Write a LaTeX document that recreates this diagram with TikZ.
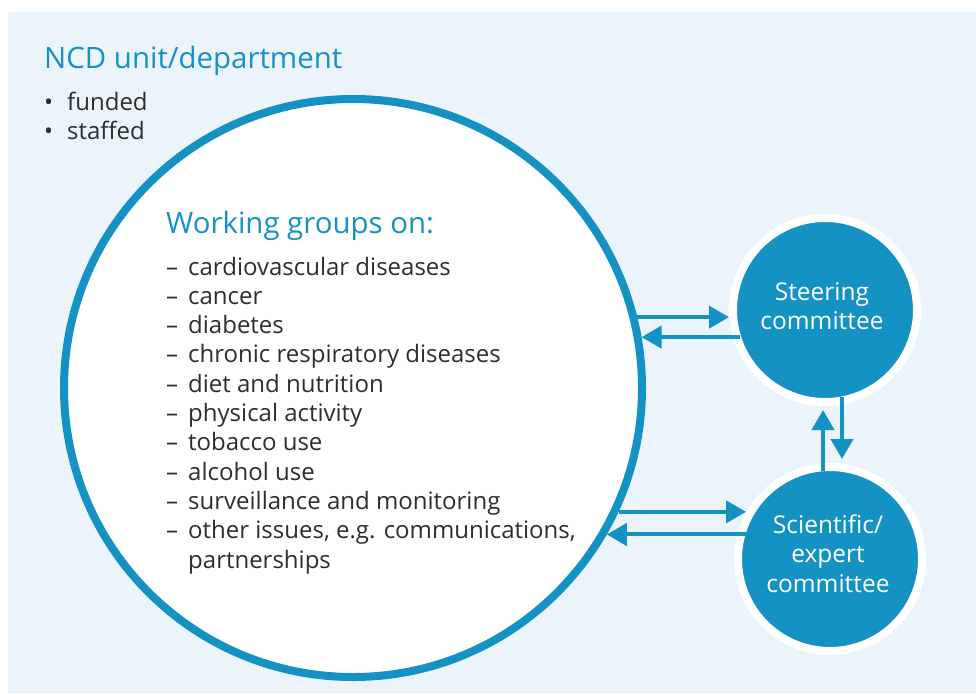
\documentclass[tikz,border=0pt]{standalone}
\usepackage{fontspec}
\setmainfont{Open Sans}
\usetikzlibrary{arrows.meta,calc}
\definecolor{ncdblue}{HTML}{1592C4}
\definecolor{panel}{HTML}{EBF4FA}
\definecolor{txt}{HTML}{2E2E2E}
\tikzset{
  bigc/.style={circle, draw=ncdblue, fill=white, line width=8pt, minimum size=578pt, inner sep=0pt},
  smallc/.style={circle, fill=ncdblue, draw=white, line width=8pt, minimum size=184pt, inner sep=0pt},
  arr/.style={draw=ncdblue, line width=4pt, -{Triangle[length=20pt,width=22pt]}},
  bodytxt/.style={inner sep=0pt, text=txt, font=\fontsize{24}{29.3}\selectfont},
  headtxt/.style={inner sep=0pt, text=ncdblue, font=\fontsize{29.4}{35}\selectfont},
  circtxt/.style={inner sep=0pt, text=white, font=\fontsize{24.5}{29.5}\selectfont}
}
\begin{document}
\begin{tikzpicture}[x=1pt,y=-1pt]
\useasboundingbox (0,0) rectangle (976,693);
\fill[panel] (8,12) rectangle (976,693);
\node[bigc] (big) at (353,388) {};
\node[smallc] (steer) at (825,310) {};
\node[smallc] (sci) at (830,559) {};
\draw[arr] (big.14) -- (big.14 -| steer.west);
\draw[arr] ($(big.10 -| steer.west)+(11,0)$) -- (big.10);
\draw[arr] (big.-25) -- (big.-25 -| sci.151);
\draw[arr] ($(big.-30 -| sci.west)+(12,0)$) -- (big.-30);
\draw[arr] ($(sci.north)+(-7,8)$) -- ($(steer.south)+(-2,4)$);
\draw[arr] ($(steer.south)+(17,-9)$) -- ($(sci.north)+(12,-4)$);
\node[headtxt, anchor=base west] (title) at (44,68) {NCD unit/department};
\node[bodytxt, anchor=base west] (bullets) at (44,110) {\begin{tabular}[t]{@{}l@{}}
\makebox[23pt][l]{•}funded\\
\makebox[23pt][l]{•}staffed
\end{tabular}};
\node[headtxt, anchor=base west] (wg) at (166,233) {Working groups on:};
\node[bodytxt, anchor=base west] (list) at (166,275) {\begin{tabular}[t]{@{}l@{}}
\makebox[22pt][l]{–}cardiovascular diseases\\
\makebox[22pt][l]{–}cancer\\
\makebox[22pt][l]{–}diabetes\\
\makebox[22pt][l]{–}chronic respiratory diseases\\
\makebox[22pt][l]{–}diet and nutrition\\
\makebox[22pt][l]{–}physical activity\\
\makebox[22pt][l]{–}tobacco use\\
\makebox[22pt][l]{–}alcohol use\\
\makebox[22pt][l]{–}surveillance and monitoring\\
\makebox[22pt][l]{–}other issues, e.g. communications,\\
\hspace*{22pt}partnerships
\end{tabular}};
\node[circtxt, anchor=base] (steertxt) at (822,300) {\begin{tabular}[t]{@{}c@{}}Steering\\committee\end{tabular}};
\node[circtxt, anchor=base] (scitxt) at (828,533) {\begin{tabular}[t]{@{}c@{}}Scientific/\\expert\\committee\end{tabular}};
\end{tikzpicture}
\end{document}
